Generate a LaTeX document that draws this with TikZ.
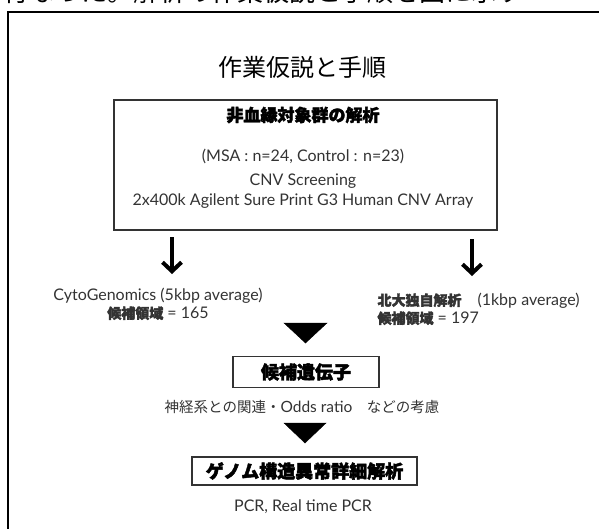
\documentclass[tikz,border=0pt]{standalone}
\usepackage{fontspec}
\usetikzlibrary{arrows.meta}
\newfontfamily\jp{Noto Sans CJK JP}
\newfontfamily\jpheavy{Noto Sans CJK JP}[BoldFeatures={FakeBold=2.5}]
\newfontfamily\lat{Lato}
\definecolor{txt}{HTML}{333333}
\newcommand\hv{\jpheavy\bfseries}
\tikzset{
  boxstyle/.style={draw=black!80, line width=1.1pt, inner sep=0pt},
  latin/.style={font=\lat\fontsize{16}{20}\selectfont, text=txt},
  heavy/.style={font=\hv\fontsize{17}{20}\selectfont},
  downarrow/.style={line width=4pt, -{Straight Barb[length=9pt,width=19pt,line width=4pt]}},
  tri/.style={fill=black}
}
\begin{document}
\begin{tikzpicture}[x=1pt,y=-1pt]
\useasboundingbox (0,0) rectangle (599,528);
\begin{scope}
\clip (0,0) rectangle (599,528);
\node[font=\jp\fontsize{26}{28}\selectfont, anchor=west] (toptext) at (0,-8) {行なった。解析の作業仮説と手順を図に示す};
\draw[line width=2.2pt] (8,545) -- (8,12) -- (620,12);
\node[latin, anchor=west, align=left] (hokudai) at (374,309)
  {{\hv\fontsize{14}{19}\selectfont 北大独自解析}\quad(1kbp average)\\[-2pt]{\hv\fontsize{14}{19}\selectfont 候補領域} = 197};
\end{scope}

\node[font=\jp\fontsize{24}{26}\selectfont] (title) at (302,67) {作業仮説と手順};

\node[boxstyle, minimum width=383pt, minimum height=130pt] (screen) at (305.5,165) {};
\node[heavy] (h1) at (303,115) {非血縁対象群の解析};
\node[latin] (msa) at (303,156) {(MSA : n=24, Control : n=23)};
\node[latin, align=center] (cnv) at (303,191) {CNV Screening\\2x400k Agilent Sure Print G3 Human CNV Array};

\coordinate (la1) at (172,237);
\coordinate (la2) at (172,274);
\coordinate (ra1) at (472,239);
\coordinate (ra2) at (472,276);
\draw[downarrow] (la1) -- (la2);
\draw[downarrow] (ra1) -- (ra2);

\node[latin, align=center] (cyto) at (158,304)
  {CytoGenomics (5kbp average)\\[-2pt]{\hv\fontsize{14}{19}\selectfont 候補領域} = 165};

\draw[tri] (284,323) -- (327,323) -- (305.5,343) -- cycle;

\node[boxstyle, minimum width=146pt, minimum height=31pt, font=\hv\fontsize{18}{20}\selectfont] (cand) at (306,372) {候補遺伝子};

\node[font=\jp\fontsize{14.5}{16}\selectfont, text=txt] (consid) at (302,407)
  {神経系との関連・{\lat\fontsize{15.5}{16}\selectfont Odds ratio}\quad などの考慮};

\draw[tri] (284,423) -- (326,423) -- (305,443) -- cycle;

\node[boxstyle, minimum width=225pt, minimum height=28pt, font=\hv\fontsize{18}{20}\selectfont] (detail) at (304.5,471) {ゲノム構造異常詳細解析};

\node[latin] (pcr) at (303,507) {PCR, Real time PCR};
\end{tikzpicture}
\end{document}
